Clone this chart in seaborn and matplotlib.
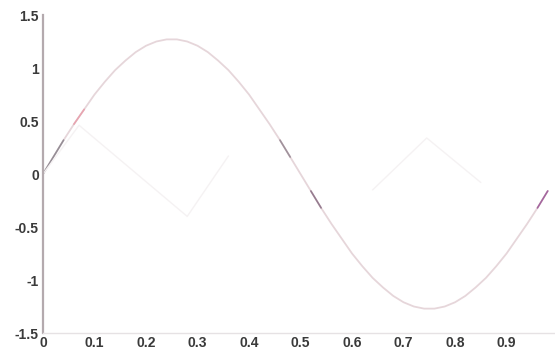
import numpy as np
import pandas as pd
import matplotlib
matplotlib.use("Agg")
import matplotlib.pyplot as plt
import seaborn as sns

# Fundamental component, sampled every 0.02
t = [round(0.02 * k, 2) for k in range(50)]
fundamental = [0.00, 0.16, 0.32, 0.47, 0.61, 0.75, 0.87, 0.98, 1.07, 1.15,
               1.21, 1.25, 1.27, 1.27, 1.25, 1.21, 1.15, 1.07, 0.98, 0.87,
               0.75, 0.61, 0.47, 0.32, 0.16, 0.00, -0.16, -0.32, -0.47, -0.61,
               -0.75, -0.87, -0.98, -1.07, -1.15, -1.21, -1.25, -1.27, -1.27, -1.25,
               -1.21, -1.15, -1.07, -0.98, -0.87, -0.75, -0.61, -0.47, -0.32, -0.16]

# Faint residual trace (gaps where it is not drawn)
t_res = [0.00, 0.07, 0.28, 0.36, np.nan, 0.64, 0.745, 0.85]
residual = [0.00, 0.46, -0.40, 0.17, np.nan, -0.15, 0.34, -0.08]

x_ticks = [0, 0.1, 0.2, 0.3, 0.4, 0.5, 0.6, 0.7, 0.8, 0.9, 1.0]
x_tick_labels = ["0", "0.1", "0.2", "0.3", "0.4", "0.5", "0.6", "0.7", "0.8", "0.9", "1"]
y_ticks = [-1.5, -1, -0.5, 0, 0.5, 1, 1.5]
y_tick_labels = ["-1.5", "-1", "-0.5", "0", "0.5", "1", "1.5"]

sns.set_style("white")
plt.rcParams["font.family"] = ["Liberation Sans", "DejaVu Sans"]

fig = plt.figure(figsize=(5.55, 3.54), dpi=100)
ax = fig.add_axes([0.0775, 0.0593, 0.928, 0.8983])

df = pd.DataFrame({"t": t, "v": fundamental})
sns.lineplot(data=df, x="t", y="v", ax=ax, color="#e6d6da", lw=1.3,
             estimator=None, sort=False)

# Darker stretches of the same curve
for sl, col in [(slice(0, 3), "#958e96"), (slice(3, 5), "#e8a4b0"),
                (slice(23, 25), "#a0929c"), (slice(26, 28), "#967c90"),
                (slice(48, 50), "#a4669e")]:
    ax.plot(t[sl], fundamental[sl], color=col, lw=1.2, solid_capstyle="round")

ax.plot(t_res, residual, color="#f5f2f3", lw=1.0)

ax.set_xlim(0, 1)
ax.set_ylim(-1.5, 1.5)
ax.set_xticks(x_ticks)
ax.set_xticklabels(x_tick_labels)
ax.set_yticks(y_ticks)
ax.set_yticklabels(y_tick_labels)
ax.set_xlabel("")
ax.set_ylabel("")

for s in ["top", "right"]:
    ax.spines[s].set_visible(False)
ax.spines["left"].set_color("#b4aaae")
ax.spines["left"].set_linewidth(1.6)
ax.spines["bottom"].set_color("#e6e2e4")
ax.spines["bottom"].set_linewidth(1.0)

ax.tick_params(axis="both", direction="in", length=3, width=0.8,
               color="#e4e0e2", labelsize=10, labelcolor="#3a3a3a", pad=2)
ax.tick_params(axis="y", pad=3)
for lab in ax.get_xticklabels() + ax.get_yticklabels():
    lab.set_fontweight("bold")

fig.savefig("out.png", dpi=100)
